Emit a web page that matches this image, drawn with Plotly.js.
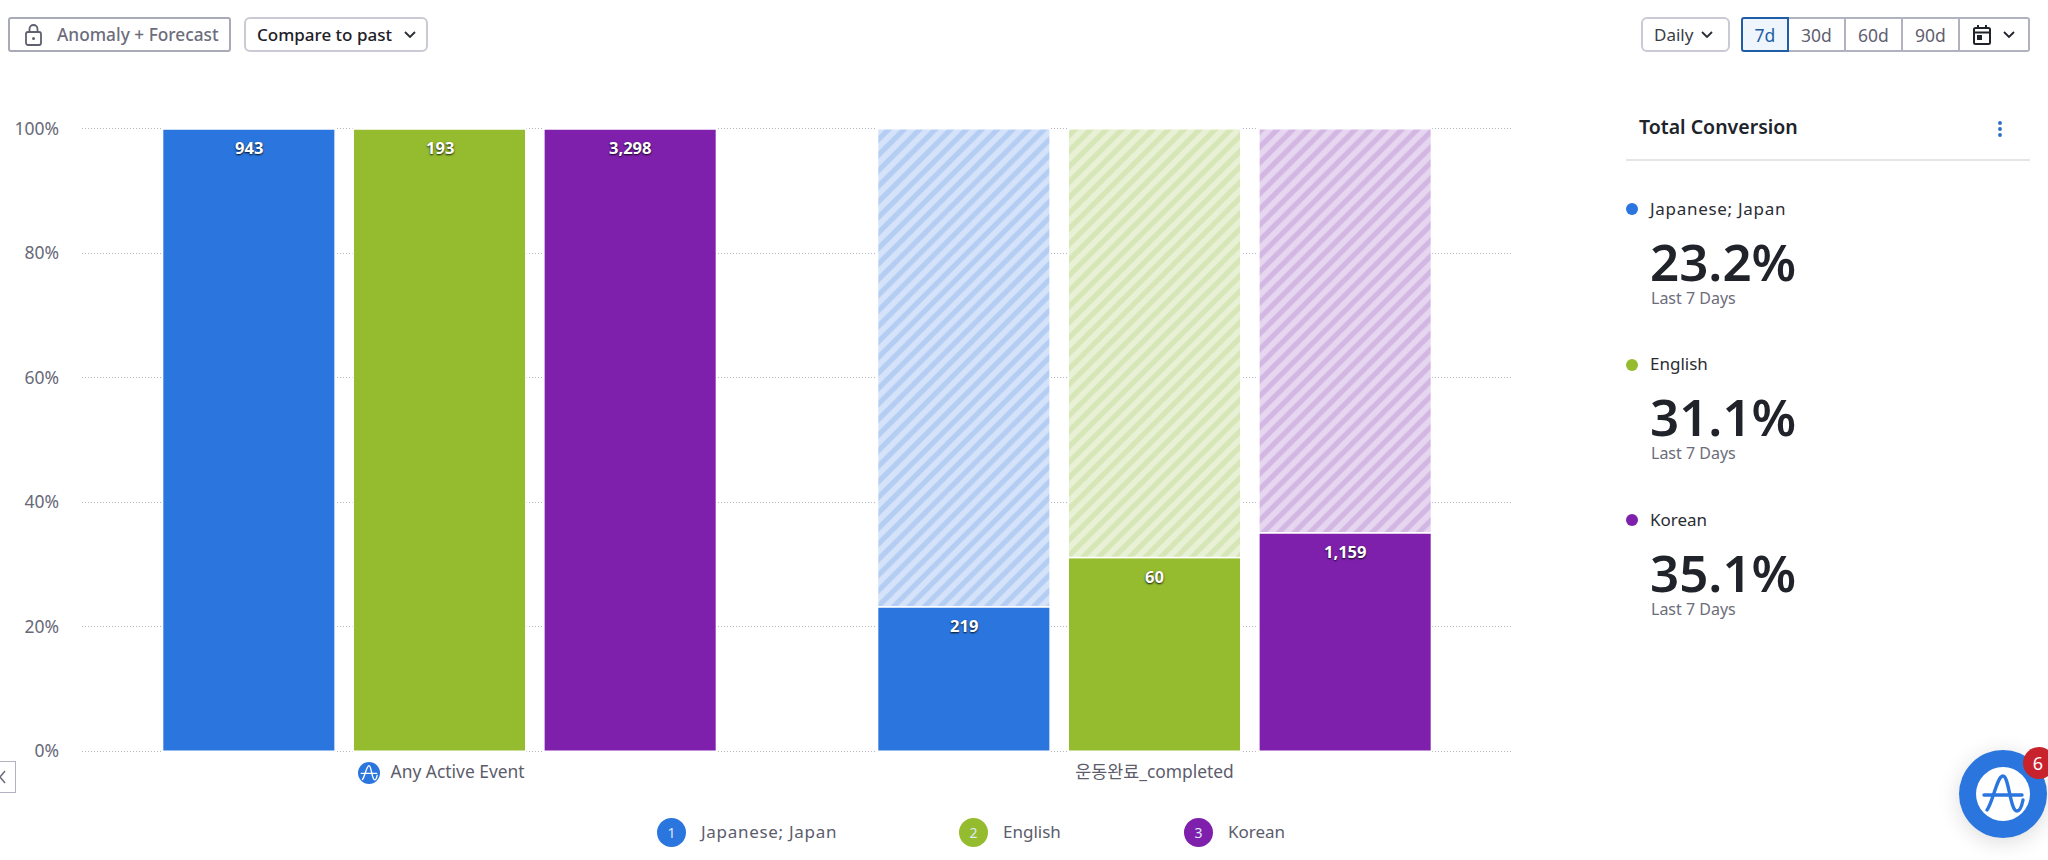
<!DOCTYPE html>
<html><head><meta charset="utf-8">
<script src="https://cdn.plot.ly/plotly-3.0.1.min.js"></script>
<style>
html,body{margin:0;padding:0;background:#fff;width:2048px;height:860px;overflow:hidden;font-family:"Noto Sans","Noto Sans CJK KR",sans-serif;}
#chart{position:absolute;left:0;top:0;width:2048px;height:860px;}
.abs{position:absolute;box-sizing:border-box;white-space:nowrap;}
.btn{display:flex;align-items:center;top:17px;height:35px;border:2px solid #c9cad3;border-radius:6px;background:#fff;font-size:17px;color:#1e2027;}
.seg{top:17px;height:35px;border:2px solid #b1b2bf;border-left-width:0;display:flex;align-items:center;justify-content:center;font-size:17.5px;color:#5f6070;background:#fff;}
.lab{font-size:17px;color:#2a2c33;line-height:22px;}
.big{font-size:51px;font-weight:600;color:#20232a;line-height:46px;height:46px;}
.sub{font-size:16px;color:#6c6d7b;line-height:20px;}
.dot{width:12px;height:12px;border-radius:50%;}
.num{width:29px;height:29px;border-radius:50%;color:#dfe9fa;font-size:14px;display:flex;align-items:center;justify-content:center;}
.leg{font-size:17px;color:#5b5c6c;line-height:24px;}
</style></head><body>
<div id="chart"></div>
<div id="ui"></div>
<script>
var categories = ["Any Active Event", "운동완료_completed"];
var seriesNames = ["Japanese; Japan", "English", "Korean"];
var conversionPct = [[100, 23.2], [100, 31.1], [100, 35.1]];
var dropoffPct = [[0, 76.8], [0, 68.9], [0, 64.9]];
var countLabels = [["943", "219"], ["193", "60"], ["3,298", "1,159"]];
var totals = ["23.2%", "31.1%", "35.1%"];
var yTicks = [0, 20, 40, 60, 80, 100];
var yTickLabels = ["0%", "20%", "40%", "60%", "80%", "100%"];
var xTickLabels = ["\u00a0\u00a0\u00a0\u00a0\u00a0\u00a0\u00a0\u00a0Any Active Event", "운동완료_completed"];
var colors = ["#2b76de", "#95bc2f", "#7f20ad"];
var hatchBg = ["#d5e3fa", "#e8f1d6", "#e6d6f0"];
var hatchFg = ["#b4cdf3", "#d6e6b6", "#d3b7e3"];

var FONT = '"Noto Sans","Noto Sans CJK KR",sans-serif';
var traces = [], annotations = [];
seriesNames.forEach(function (name, i) {
  traces.push({
    type: "bar", name: name, x: categories, y: conversionPct[i], offsetgroup: String(i),
    marker: { color: colors[i], line: { color: "#fff", width: 1.5 } }, hoverinfo: "skip"
  });
  traces.push({
    type: "bar", name: name + " drop-off", x: categories, y: dropoffPct[i], base: conversionPct[i], offsetgroup: String(i),
    marker: { color: hatchBg[i], line: { color: "#fff", width: 1.5 },
      pattern: { shape: "/", bgcolor: hatchBg[i], fgcolor: hatchFg[i], size: 11, solidity: 0.48, fillmode: "replace" } },
    hoverinfo: "skip"
  });
  categories.forEach(function (c, j) {
    annotations.push({
      x: c, y: conversionPct[i][j], xref: "x", yref: "y", text: countLabels[i][j], showarrow: false,
      xshift: (i - 1) * 190.5, yshift: -18.5, yanchor: "middle",
      font: { family: FONT, size: 16.5, color: "#fff", weight: 700, shadow: "0px 1px 2px rgba(0,0,0,.9)" }
    });
  });
});
var layout = {
  width: 2048, height: 860, autosize: false, showlegend: false,
  paper_bgcolor: "rgba(0,0,0,0)", plot_bgcolor: "rgba(0,0,0,0)",
  margin: { l: 82, r: 536, t: 126.8, b: 106.9, pad: 0 },
  barmode: "group", bargap: 0.2, bargroupgap: 0.095,
  font: { family: FONT, size: 16, color: "#686978" },
  xaxis: { type: "category", tickmode: "array", tickvals: categories, ticktext: xTickLabels,
    showgrid: false, zeroline: false, showline: false, ticks: "", ticklabelstandoff: 7,
    tickfont: { size: 17.4, color: "#5b5c6c", family: FONT } },
  yaxis: { range: [-0.3, 100.3], tickmode: "array", tickvals: yTicks, ticktext: yTickLabels,
    showgrid: true, griddash: "1px,2px", gridcolor: "#b4b5be", gridwidth: 1, zeroline: false, showline: false,
    ticks: "", ticklabelstandoff: 22, tickfont: { size: 17.5, color: "#686978", family: FONT } },
  annotations: annotations
};
Plotly.newPlot("chart", traces, layout, { displayModeBar: false, staticPlot: true });

var chev = function (c) { return '<svg width="14" height="9" viewBox="0 0 14 9"><path d="M2 2l5 5 5-5" fill="none" stroke="' + (c || "#2a2c33") + '" stroke-width="1.8"/></svg>'; };
var ampLogo = function (s, bg, fg) {
  return '<svg width="' + s + '" height="' + s + '" viewBox="0 0 54 54"><circle cx="27" cy="27" r="27" fill="' + bg + '"/>' +
    '<path d="M8 28H46M11 43C17 35 21 9 27 9C33 9 34 44 41 44C44 44 46 38 47 33" fill="none" stroke="' + fg + '" stroke-width="3.4" stroke-linecap="round"/></svg>';
};
var h = '';
// toolbar
h += '<div class="abs btn" style="left:8px;width:223px;border-color:#a9aab7;border-radius:3px;color:#6c6d7c;font-weight:500;">' +
  '<svg style="margin-left:14px" width="20" height="24" viewBox="0 0 20 24"><rect x="2" y="9" width="15" height="13" rx="2" fill="none" stroke="#5f6070" stroke-width="1.8"/><path d="M5.500 9V6a4 4 0 0 1 8 0v3" fill="none" stroke="#5f6070" stroke-width="1.8"/><circle cx="9.500" cy="15.500" r="1.500" fill="#5f6070"/></svg>' +
  '<span style="margin-left:13px;font-size:17.3px">Anomaly + Forecast</span></div>';
h += '<div class="abs btn" style="left:244px;width:184px;font-weight:500;"><span style="margin-left:11px">Compare to past</span><span style="margin-left:11px;display:flex">' + chev() + '</span></div>';
h += '<div class="abs btn" style="left:1641px;width:89px;color:#3a3c45;"><span style="margin-left:11px">Daily</span><span style="margin-left:7px;display:flex">' + chev() + '</span></div>';
h += '<div class="abs seg" style="left:1741px;width:48px;border:2px solid #1f5da6;border-radius:3px 0 0 3px;background:#eef5fd;color:#1f5da6;">7d</div>';
[[1789, 57, "30d"], [1846, 57, "60d"], [1903, 57, "90d"]].forEach(function (s) {
  h += '<div class="abs seg" style="left:' + s[0] + 'px;width:' + s[1] + 'px;">' + s[2] + '</div>';
});
h += '<div class="abs seg" style="left:1960px;width:70px;border-radius:0 3px 3px 0;"><svg width="20" height="22" viewBox="0 0 20 22"><rect x="2" y="4" width="16" height="16" rx="1.500" fill="none" stroke="#20232a" stroke-width="2"/><path d="M2 8.500H18M6 1V4M14 1V4" stroke="#20232a" stroke-width="2"/><rect x="5" y="11" width="5" height="5" fill="#20232a"/></svg><span style="margin-left:10px;display:flex">' + chev("#20232a") + '</span></div>';
// side panel
h += '<div class="abs" style="left:1639px;top:113px;font-size:19.5px;font-weight:600;color:#20232a;">Total Conversion</div>';
h += '<svg class="abs" style="left:1996px;top:120px" width="8" height="18" viewBox="0 0 8 18"><circle cx="4" cy="3" r="1.900" fill="#2b6cc4"/><circle cx="4" cy="9" r="1.900" fill="#2b6cc4"/><circle cx="4" cy="15" r="1.900" fill="#2b6cc4"/></svg>';
h += '<div class="abs" style="left:1626px;top:159px;width:404px;height:2px;background:#e6e6e9;"></div>';
seriesNames.forEach(function (n, i) {
  var dy = i * 155.5;
  var sp = i === 0 ? "letter-spacing:.7px;" : "";
  h += '<div class="abs dot" style="left:1626px;top:' + (203 + dy) + 'px;background:' + colors[i] + ';"></div>';
  h += '<div class="abs lab" style="left:1650px;top:' + (197.5 + dy) + 'px;' + sp + '">' + n + '</div>';
  h += '<div class="abs big" style="left:1650px;top:' + (237.5 + dy) + 'px;">' + totals[i] + '</div>';
  h += '<div class="abs sub" style="left:1651px;top:' + (287.5 + dy) + 'px;">Last 7 Days</div>';
});
// chart legend
[[657, 701], [959, 1003], [1184, 1228]].forEach(function (p, i) {
  var sp = i === 0 ? "letter-spacing:.7px;" : "";
  h += '<div class="abs num" style="left:' + p[0] + 'px;top:818px;background:' + colors[i] + ';">' + (i + 1) + '</div>';
  h += '<div class="abs leg" style="left:' + p[1] + 'px;top:819.500px;' + sp + '">' + seriesNames[i] + '</div>';
});
// event icon
h += '<div class="abs" style="left:358px;top:762px;width:22px;height:22px;">' + ampLogo(22, "#2b76de", "#fff") + '</div>';
// collapse tab
h += '<div class="abs" style="left:-20px;top:761px;width:36px;height:32px;border:1.5px solid #b1b2bf;background:#fff;"></div>';
h += '<svg class="abs" style="left:0;top:770px" width="6" height="14" viewBox="0 0 6 14"><path d="M5 1L0 7l5 6" fill="none" stroke="#6c6d7c" stroke-width="1.500"/></svg>';
// chat bubble
h += '<div class="abs" style="left:1959px;top:750px;width:88px;height:88px;border-radius:50%;background:#2b76de;box-shadow:0 4px 22px rgba(0,0,0,.14);"></div>';
h += '<div class="abs" style="left:1976px;top:767px;width:54px;height:54px;">' + ampLogo(54, "#fff", "#2b76de") + '</div>';
h += '<div class="abs" style="left:2023px;top:747px;width:32px;height:32px;border-radius:50%;background:#c8232c;color:#fff;font-size:18px;display:flex;align-items:center;justify-content:center;padding-right:2px;"><span>6</span></div>';
document.getElementById("ui").innerHTML = h;
</script>
</body></html>
